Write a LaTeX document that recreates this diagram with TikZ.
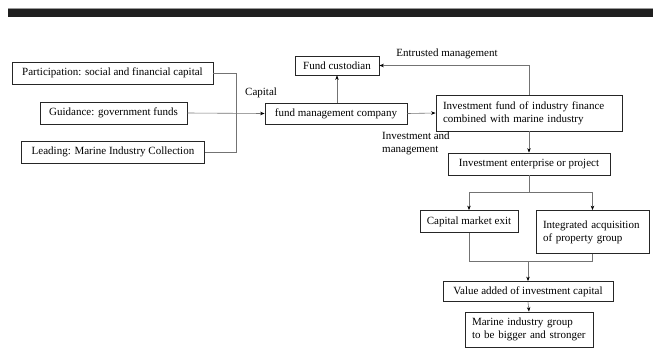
\documentclass[tikz,border=0pt]{standalone}
\usepackage{fontspec}
\setmainfont{Liberation Serif}
\usetikzlibrary{arrows.meta}
\tikzset{
  fbox/.style={draw=black!85, line width=0.8pt, inner sep=0pt, font=\fontsize{11}{13}\selectfont},
  fline/.style={draw=black!55, line width=0.6pt},
  farrow/.style={fline, -{Stealth[length=4.5pt,width=3.5pt,color=black]}},
  flabel/.style={font=\fontsize{11}{13}\selectfont, inner sep=0pt}
}
\begin{document}
\begin{tikzpicture}[x=1pt,y=-1pt]
    \useasboundingbox (0,0) rectangle (653,349);
    \fill[black!88] (8,9) rectangle (653,17);
    \draw[black!40, line width=0.6pt] (8,8) -- (653,8);

    \node[fbox, minimum width=201, minimum height=22] (part) at (112.5,73) {Participation: social and financial capital};
    \node[fbox, minimum width=147, minimum height=22] (guid) at (113.5,113) {Guidance: government funds};
    \node[fbox, minimum width=183, minimum height=22] (lead) at (113,152) {Leading: Marine Industry Collection};
    \node[fbox, minimum width=84, minimum height=19] (cust) at (337,65.5) {Fund custodian};
    \node[fbox, minimum width=142, minimum height=21] (fmc) at (336,113.5) {fund management company};
    \node[fbox, minimum width=186, minimum height=36, text width=172, align=left] (inv) at (529,113)
      {Investment fund of industry finance\\combined with marine industry};
    \node[fbox, minimum width=162, minimum height=22] (ent) at (529,164) {Investment enterprise or project};
    \node[fbox, minimum width=98, minimum height=22] (exit) at (469,221.5) {Capital market exit};
    \node[fbox, minimum width=113, minimum height=43, text width=99, align=left] (integ) at (592.5,232)
      {Integrated acquisition\\of property group};
    \node[fbox, minimum width=170, minimum height=20] (val) at (528,291.5) {Value added of investment capital};
    \node[fbox, minimum width=128, minimum height=35, text width=114, align=left] (mar) at (529,329.5)
      {Marine industry group\\to be bigger and stronger};

    \node[flabel, anchor=west] (capl) at (245,93) {Capital};
    \node[flabel] (entl) at (447,54) {Entrusted management};
    \node[flabel, anchor=west, align=left] (invl) at (382,143.5) {Investment and\\management};

    \coordinate (j1) at (236,73);
    \coordinate (j2) at (236,152);
    \coordinate (split) at (529,192);
    \coordinate (merge) at (528,261);

    \draw[fline] (part.east) -- (j1) -- (j2) -- (lead.east);
    \draw[farrow] (guid.east) -- (fmc.west);
    \draw[farrow] (fmc.north -| cust.south) -- (cust.south);
    \draw[farrow] (fmc.east) -- (inv.west);
    \draw[farrow] (inv.north) |- (cust.east);
    \draw[farrow] (inv.south) -- (ent.north);
    \draw[fline] (ent.south) -- (split);
    \draw[farrow] (split) -| (exit.north);
    \draw[farrow] (split) -| (integ.north);
    \draw[fline] (exit.south) |- (merge);
    \draw[fline] (integ.south) |- (merge);
    \draw[farrow] (merge) -- (val.north);
    \draw[farrow] (val.south) -- (mar.north);
\end{tikzpicture}
\end{document}
